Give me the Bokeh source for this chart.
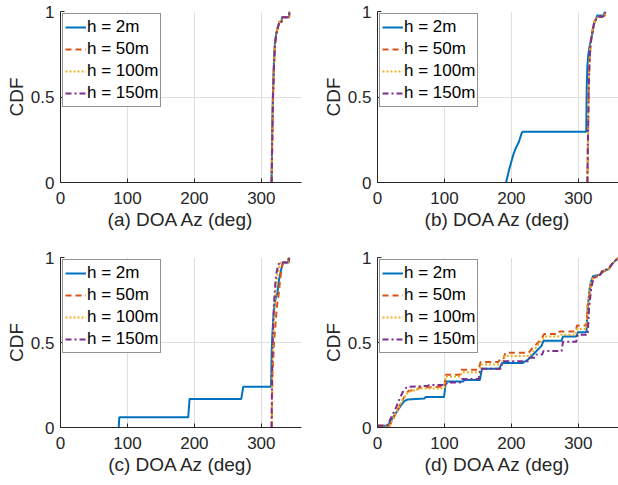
from bokeh.plotting import figure
from bokeh.layouts import gridplot
from bokeh.models import Range1d, FixedTicker, Legend, LegendItem
from bokeh.embed import file_html
from bokeh.resources import INLINE

labels = ["h = 2m", "h = 50m", "h = 100m", "h = 150m"]
colors = ["#0072BD", "#D95319", "#EDB120", "#7E2F8E"]
dashes = ["solid", "6 4", "2 2", "6 3 2 3"]
x_ticks = [0, 100, 200, 300]
y_ticks = [0, 0.5, 1]

# ---- panel (a)
a_x_2m = [315.2, 316.2, 317.2, 318.7, 320.2, 322.2, 324.6, 326.1, 326.8, 330.3, 330.8, 341.3, 341.8]
a_y_2m = [0, 0.285, 0.5, 0.69, 0.81, 0.87, 0.908, 0.928, 0.94, 0.94, 0.967, 0.967, 1.0]
a_x_50m = [315.4, 316.4, 317.4, 318.9, 320.4, 322.4, 324.8, 326.3, 327, 330.5, 331, 341.5, 342]
a_y_50m = [0, 0.285, 0.5, 0.69, 0.81, 0.87, 0.908, 0.928, 0.94, 0.94, 0.967, 0.967, 1.0]
a_x_100m = [315.4, 316.4, 317.4, 318.9, 320.4, 322.4, 324.8, 326.3, 327, 330.5, 331, 341.5, 342]
a_y_100m = [0, 0.285, 0.5, 0.69, 0.81, 0.87, 0.908, 0.928, 0.94, 0.94, 0.967, 0.967, 1.0]
a_x_150m = [315.5, 316.5, 317.5, 319, 320.5, 322.5, 324.9, 326.4, 327.1, 330.6, 331.1, 341.6, 342.1]
a_y_150m = [0, 0.285, 0.5, 0.69, 0.81, 0.87, 0.908, 0.928, 0.94, 0.94, 0.967, 0.967, 1.0]

# ---- panel (b)
b_x_2m = [192, 197, 203, 207, 211, 215.5, 217, 311.8, 312.5, 313.5, 315, 317, 319, 321, 323.3, 326, 328, 338, 339.7]
b_y_2m = [0, 0.08, 0.165, 0.205, 0.235, 0.29, 0.297, 0.297, 0.55, 0.68, 0.75, 0.80, 0.84, 0.87, 0.93, 0.95, 0.977, 0.977, 1.0]
b_x_50m = [313.6, 314.6, 315.6, 316.6, 318.2, 320.2, 322.2, 324.2, 326.2, 327.5, 336, 338, 339.6, 340.1]
b_y_50m = [0, 0.3, 0.55, 0.7, 0.8, 0.87, 0.91, 0.94, 0.955, 0.97, 0.97, 0.975, 0.975, 1.0]
b_x_100m = [313.5, 314.5, 315.5, 316.5, 318, 320, 322, 324, 326, 327.3, 336, 338, 339.5, 340]
b_y_100m = [0, 0.3, 0.55, 0.7, 0.8, 0.87, 0.91, 0.94, 0.955, 0.97, 0.97, 0.975, 0.975, 1.0]
b_x_150m = [313.5, 314.5, 315.5, 316.6, 318.2, 320.3, 322.4, 324.4, 326.4, 328, 336.5, 338.3, 339.7, 340.2]
b_y_150m = [0, 0.3, 0.55, 0.7, 0.8, 0.87, 0.91, 0.94, 0.955, 0.97, 0.97, 0.975, 0.975, 1.0]

# ---- panel (c)
c_x_2m = [87, 87.8, 190.8, 192.8, 270, 273, 314.5, 315.5, 316.5, 318, 320, 322, 324, 326, 328, 330, 332, 341, 342]
c_y_2m = [0, 0.06, 0.06, 0.168, 0.168, 0.24, 0.24, 0.45, 0.55, 0.65, 0.73, 0.77, 0.79, 0.86, 0.9, 0.935, 0.97, 0.97, 1.0]
c_x_50m = [315.5, 316.5, 319, 321, 323, 324.5, 326.5, 327.5, 329, 331, 333, 340, 341]
c_y_50m = [0, 0.3, 0.5, 0.6, 0.7, 0.75, 0.8, 0.85, 0.9, 0.95, 0.97, 0.97, 1.0]
c_x_100m = [315.5, 316.3, 317.5, 319.5, 321.5, 324, 327, 329, 340, 341]
c_y_100m = [0, 0.3, 0.5, 0.7, 0.8, 0.9, 0.95, 0.97, 0.97, 1.0]
c_x_150m = [315.3, 316, 317, 318.5, 320, 322, 325, 327, 340, 341]
c_y_150m = [0, 0.3, 0.5, 0.7, 0.8, 0.9, 0.95, 0.97, 0.97, 1.0]

# ---- panel (d)
d_x_2m = [0, 15, 20, 25, 30, 35, 40, 45, 70, 72, 99.5, 102, 128, 130, 153, 156, 182, 186, 217, 225, 235, 245, 248, 275, 277, 297, 299, 312, 314, 317, 319, 322, 333, 336, 345, 350, 355, 360]
d_y_2m = [0.01, 0.01, 0.04, 0.07, 0.10, 0.13, 0.155, 0.165, 0.17, 0.18, 0.18, 0.27, 0.27, 0.28, 0.28, 0.345, 0.345, 0.38, 0.38, 0.40, 0.44, 0.48, 0.51, 0.51, 0.535, 0.535, 0.56, 0.56, 0.70, 0.82, 0.86, 0.89, 0.90, 0.92, 0.93, 0.96, 0.98, 1.0]
d_x_50m = [0, 18, 22, 27, 32, 37, 42, 46, 60, 62, 100, 102, 123, 125, 151, 154, 180, 183, 188, 191, 226, 232, 240, 246, 249, 270, 272, 296, 298, 312, 314, 317, 319, 322, 330, 334, 345, 350, 355, 360]
d_y_50m = [0.01, 0.01, 0.04, 0.08, 0.12, 0.16, 0.19, 0.215, 0.225, 0.235, 0.24, 0.31, 0.31, 0.34, 0.34, 0.385, 0.385, 0.40, 0.40, 0.44, 0.44, 0.47, 0.50, 0.53, 0.55, 0.55, 0.565, 0.565, 0.60, 0.60, 0.72, 0.80, 0.84, 0.88, 0.89, 0.91, 0.93, 0.96, 0.98, 1.0]
d_x_100m = [0, 18, 22, 27, 32, 37, 42, 46, 58, 62, 100, 102, 124, 126, 152, 155, 186, 190, 227, 233, 241, 247, 250, 272, 274, 296, 298, 312, 314, 317, 319, 322, 332, 335, 345, 350, 355, 360]
d_y_100m = [0.01, 0.01, 0.04, 0.08, 0.12, 0.16, 0.19, 0.21, 0.22, 0.23, 0.23, 0.30, 0.30, 0.325, 0.325, 0.37, 0.37, 0.42, 0.42, 0.45, 0.49, 0.52, 0.535, 0.535, 0.545, 0.545, 0.58, 0.58, 0.72, 0.81, 0.85, 0.88, 0.9, 0.92, 0.935, 0.96, 0.98, 1.0]
d_x_150m = [0, 14, 18, 23, 28, 33, 38, 43, 46, 75, 77, 102, 104, 124, 126, 151, 154, 184, 187, 225, 227, 236, 238, 246, 248, 275, 277, 297, 299, 314, 316, 319, 321, 323, 333, 336, 345, 350, 355, 360]
d_y_150m = [0.01, 0.01, 0.04, 0.08, 0.12, 0.17, 0.21, 0.235, 0.24, 0.245, 0.25, 0.25, 0.265, 0.265, 0.285, 0.285, 0.345, 0.345, 0.39, 0.39, 0.41, 0.41, 0.43, 0.43, 0.45, 0.45, 0.505, 0.505, 0.545, 0.545, 0.70, 0.81, 0.85, 0.88, 0.9, 0.92, 0.935, 0.96, 0.98, 1.0]

panels = [
    ("(a) DOA Az (deg)", [(a_x_2m, a_y_2m), (a_x_50m, a_y_50m), (a_x_100m, a_y_100m), (a_x_150m, a_y_150m)]),
    ("(b) DOA Az (deg)", [(b_x_2m, b_y_2m), (b_x_50m, b_y_50m), (b_x_100m, b_y_100m), (b_x_150m, b_y_150m)]),
    ("(c) DOA Az (deg)", [(c_x_2m, c_y_2m), (c_x_50m, c_y_50m), (c_x_100m, c_y_100m), (c_x_150m, c_y_150m)]),
    ("(d) DOA Az (deg)", [(d_x_2m, d_y_2m), (d_x_50m, d_y_50m), (d_x_100m, d_y_100m), (d_x_150m, d_y_150m)]),
]

FONT = "Liberation Sans"
AX = "#262626"


def make_panel(xlabel, series, left, right, top, bottom, fh):
    p = figure(frame_width=241, frame_height=fh,
               min_border_left=left, min_border_right=right,
               min_border_top=top, min_border_bottom=bottom,
               x_range=Range1d(0, 360), y_range=Range1d(0, 1),
               output_backend="svg", toolbar_location=None)
    p.outline_line_color = None
    p.background_fill_color = "white"
    p.border_fill_color = "white"
    p.xaxis.ticker = FixedTicker(ticks=x_ticks)
    p.yaxis.ticker = FixedTicker(ticks=y_ticks)
    p.yaxis.major_label_overrides = {0: "0", 0.5: "0.5", 1: "1"}
    for ax in (p.xaxis[0], p.yaxis[0]):
        ax.axis_line_color = AX
        ax.axis_line_width = 1
        ax.major_tick_line_color = AX
        ax.major_tick_in = 4
        ax.major_tick_out = 0
        ax.minor_tick_line_color = None
        ax.major_label_text_font = FONT
        ax.major_label_text_font_size = "17px"
        ax.major_label_text_color = AX
        ax.axis_label_text_font = FONT
        ax.axis_label_text_font_size = "19px"
        ax.axis_label_text_font_style = "normal"
        ax.axis_label_text_color = AX
    p.xaxis.major_label_standoff = 9
    p.xaxis.axis_label_standoff = 2
    p.yaxis.major_label_standoff = 6
    p.yaxis.axis_label_standoff = 1
    p.xaxis.axis_label = xlabel
    p.yaxis.axis_label = "CDF"
    for g in (p.xgrid[0], p.ygrid[0]):
        g.grid_line_color = "#dfdfdf"
        g.grid_line_width = 1
    items = []
    for (xs, ys), lab, c, d in zip(series, labels, colors, dashes):
        r = p.line(xs, ys, line_color=c, line_width=2, line_dash=d)
        items.append(LegendItem(label=lab, renderers=[r]))
    leg = Legend(items=items, location="top_left")
    leg.margin = 2
    leg.padding = 2
    leg.spacing = 0
    leg.glyph_width = 21
    leg.glyph_height = 22
    leg.label_height = 22
    leg.label_standoff = 1
    leg.label_text_font = FONT
    leg.label_text_font_size = "17px"
    leg.label_text_color = "#000000"
    leg.border_line_color = AX
    leg.border_line_width = 1
    leg.background_fill_color = "white"
    leg.background_fill_alpha = 1
    p.add_layout(leg)
    return p


pa = make_panel(panels[0][0], panels[0][1], 60, 8, 11, 60, 171)
pb = make_panel(panels[1][0], panels[1][1], 68, 0, 11, 60, 171)
pc = make_panel(panels[2][0], panels[2][1], 60, 8, 15, 58, 170)
pd = make_panel(panels[3][0], panels[3][1], 68, 0, 15, 58, 170)

grid = gridplot([[pa, pb], [pc, pd]], toolbar_location=None)
open("out.html", "w").write(file_html(grid, INLINE))
